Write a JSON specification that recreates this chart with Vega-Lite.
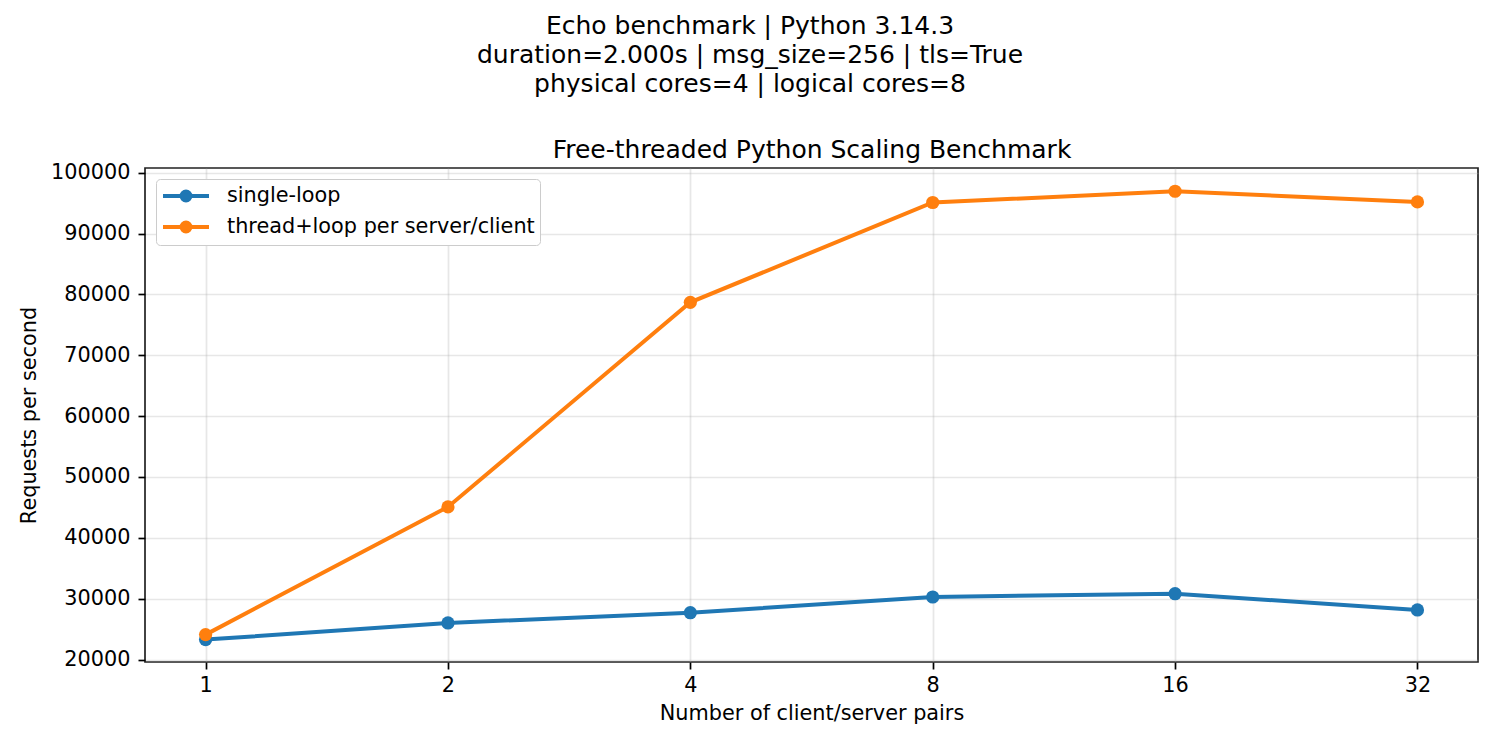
{
  "$schema": "https://vega.github.io/schema/vega-lite/v6.json",
  "width": 1333,
  "height": 494,
  "autosize": {"type": "none"},
  "padding": {"left": 145, "top": 168, "right": 22, "bottom": 88},
  "background": "white",
  "config": {
    "font": "DejaVu Sans",
    "view": {"stroke": "#222", "strokeWidth": 1.7},
    "axis": {
      "labelFont": "DejaVu Sans", "labelFontSize": 20.8, "labelColor": "#000",
      "titleFont": "DejaVu Sans", "titleFontSize": 20.8, "titleFontWeight": "normal", "titleColor": "#000",
      "tickColor": "#000", "tickWidth": 1.7, "tickSize": 7, "domain": false,
      "gridColor": "#b0b0b0", "gridOpacity": 0.3, "gridWidth": 1.7, "labelPadding": 6
    },
    "legend": {
      "labelFont": "DejaVu Sans", "labelFontSize": 20.8, "labelColor": "#000", "labelLimit": 0
    }
  },
  "title": {
    "text": ["Echo benchmark | Python 3.14.3", "duration=2.000s | msg_size=256 | tls=True", "physical cores=4 | logical cores=8"],
    "fontSize": 25, "fontWeight": "normal", "lineHeight": 29, "anchor": "middle", "dx": -61.5, "offset": 40, "color": "#000", "font": "DejaVu Sans"
  },
  "data": {
    "values": [
      {"pairs": 1, "series": "single-loop", "rps": 23280},
      {"pairs": 2, "series": "single-loop", "rps": 26010},
      {"pairs": 4, "series": "single-loop", "rps": 27700},
      {"pairs": 8, "series": "single-loop", "rps": 30280},
      {"pairs": 16, "series": "single-loop", "rps": 30820},
      {"pairs": 32, "series": "single-loop", "rps": 28150},
      {"pairs": 1, "series": "thread+loop per server/client", "rps": 24100},
      {"pairs": 2, "series": "thread+loop per server/client", "rps": 45080},
      {"pairs": 4, "series": "thread+loop per server/client", "rps": 78700},
      {"pairs": 8, "series": "thread+loop per server/client", "rps": 95100},
      {"pairs": 16, "series": "thread+loop per server/client", "rps": 96950},
      {"pairs": 32, "series": "thread+loop per server/client", "rps": 95200}
    ]
  },
  "layer": [
    {
      "mark": {"type": "line", "strokeWidth": 4},
      "encoding": {
        "x": {"field": "pairs", "type": "quantitative",
          "scale": {"type": "log", "base": 2, "domain": [0.8409, 38.05], "nice": false},
          "axis": {"orient": "bottom", "values": [1, 2, 4, 8, 16, 32], "format": "d", "title": "Number of client/server pairs", "titlePadding": 9, "grid": true}},
        "y": {"field": "rps", "type": "quantitative",
          "scale": {"domain": [19600, 100770], "nice": false, "zero": false},
          "axis": {"values": [20000, 30000, 40000, 50000, 60000, 70000, 80000, 90000, 100000], "format": "d", "title": "Requests per second", "titlePadding": 11, "labelPadding": 8, "grid": true}},
        "color": {"field": "series", "type": "nominal",
          "scale": {"domain": ["single-loop", "thread+loop per server/client"], "range": ["#1f77b4", "#ff7f0e"]},
          "legend": {
            "title": null, "orient": "top-left", "offset": 11, "padding": 5,
            "strokeColor": "#cccccc", "fillColor": "white", "cornerRadius": 4,
            "symbolType": "M-1,0H3.6M0.85,0A0.45,0.45 0 1,1 1.75,0A0.45,0.45 0 1,1 0.85,0Z",
            "symbolSize": 400, "symbolStrokeWidth": 4, "labelOffset": 42, "rowPadding": 5,
            "encode": {"symbols": {"update": {"fill": {"scale": "color", "field": "value"}, "stroke": {"scale": "color", "field": "value"}, "strokeWidth": {"value": 4}, "opacity": {"value": 1}}}}
          }}
      }
    },
    {
      "mark": {"type": "point", "filled": true, "size": 175, "opacity": 1},
      "encoding": {
        "x": {"field": "pairs", "type": "quantitative",
          "scale": {"type": "log", "base": 2, "domain": [0.8409, 38.05], "nice": false},
          "axis": {"orient": "top", "title": "Free-threaded Python Scaling Benchmark", "titleFontSize": 25, "labels": false, "ticks": false, "grid": false, "domain": false, "titlePadding": 6}},
        "y": {"field": "rps", "type": "quantitative"},
        "color": {"field": "series", "type": "nominal"}
      }
    }
  ]
}
